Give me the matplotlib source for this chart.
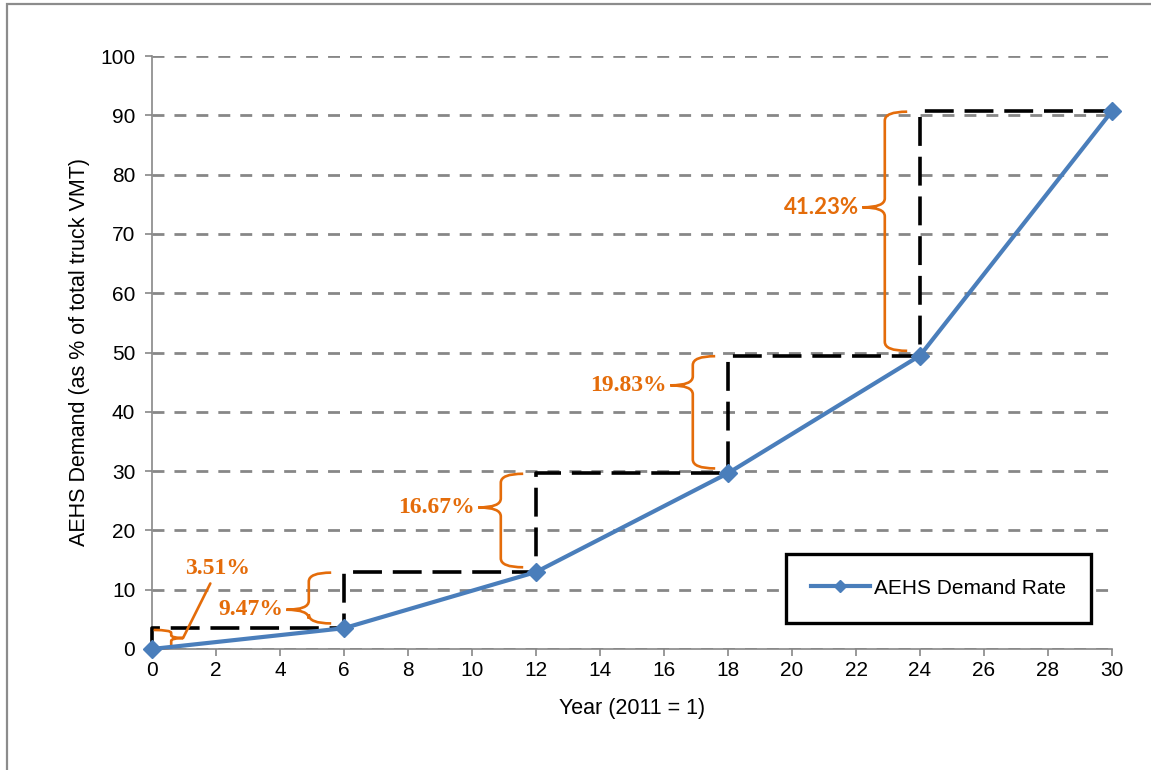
import numpy as np
import matplotlib.pyplot as plt
from matplotlib.path import Path
from matplotlib.patches import PathPatch, Rectangle

# data
years = [0, 6, 12, 18, 24, 30]
demand = [0, 3.51, 12.98, 29.65, 49.48, 90.71]
step_labels = ['3.51%', '9.47%', '16.67%', '19.83%', '41.23%']
y_ticks = list(range(0, 101, 10))
x_ticks = list(range(0, 31, 2))

orange = '#E46C0A'
blue = '#4A7EBB'
gray = '#878787'


def brace(ax, x_end, x_vert, x_tip, y0, y1, ym, ry):
    # curly brace: arms at y0/y1 ending at x_end, spine at x_vert, point at (x_tip, ym)
    verts = [(x_end, y1), (x_vert, y1), (x_vert, y1 - ry), (x_vert, ym + ry),
             (x_vert, ym), (x_tip, ym),
             (x_tip, ym), (x_vert, ym), (x_vert, ym - ry), (x_vert, y0 + ry),
             (x_vert, y0), (x_end, y0)]
    codes = [Path.MOVETO, Path.CURVE3, Path.CURVE3, Path.LINETO, Path.CURVE3, Path.CURVE3,
             Path.MOVETO, Path.CURVE3, Path.CURVE3, Path.LINETO, Path.CURVE3, Path.CURVE3]
    ax.add_patch(PathPatch(Path(verts, codes), fill=False, edgecolor=orange, lw=1.9,
                           zorder=4, clip_on=False))


fig = plt.figure(figsize=(11.51, 7.70), dpi=100)
ax = fig.add_axes([152 / 1151, 1 - 649 / 770, 960 / 1151, 593 / 770])

# outer frame of the chart area
fig.patches.append(Rectangle((7 / 1151, -0.05), 1.1, 1 - 4 / 770 + 0.05,
                             transform=fig.transFigure, fill=False,
                             edgecolor='#8c8c8c', lw=1.6))

ax.set_xlim(0, 30)
ax.set_ylim(0, 100)
ax.set_xticks(x_ticks)
ax.set_yticks(y_ticks)
ax.yaxis.grid(True, color=gray, lw=2.0, linestyle=(0, (4.3, 3.6)))
ax.set_axisbelow(True)
for s in ['top', 'right']:
    ax.spines[s].set_visible(False)
for s in ['left', 'bottom']:
    ax.spines[s].set_color(gray)
    ax.spines[s].set_linewidth(1.2)
ax.tick_params(colors=gray, labelcolor='black', labelsize=15, length=5, width=1.2)
ax.tick_params(axis='y', pad=7)
for lab in ax.get_xticklabels() + ax.get_yticklabels():
    lab.set_fontfamily('Liberation Sans')

# black dashed steps
sx, sy = [years[0]], [demand[0]]
for i in range(len(years) - 1):
    sx += [years[i], years[i + 1]]
    sy += [demand[i + 1], demand[i + 1]]
ax.plot(sx, sy, color='black', lw=2.6, linestyle=(0, (8, 3)), zorder=3, clip_on=False)

line, = ax.plot(years, demand, color=blue, lw=3, marker='D', markersize=9,
                zorder=5, clip_on=False, label='AEHS Demand Rate')

# small bracket at the start with leader to its label
brace(ax, 0.05, 0.6, 0.97, demand[0], demand[1] - 0.3, 1.85, 0.5)
ax.annotate(step_labels[0], xy=(0.97, 1.85), xytext=(2.05, 13.5),
            ha='center', va='center', color=orange, fontsize=17, fontweight='bold',
            family='Liberation Serif', zorder=6,
            arrowprops=dict(arrowstyle='-', color=orange, lw=1.9, shrinkA=1, shrinkB=0))

# braces for the other steps, left of each vertical step
tip_frac = [None, 0.27, 0.64, 0.74, 0.6]
for i in range(1, len(step_labels)):
    xv = years[i] - 1.1
    y0 = demand[i] + 0.8
    y1 = demand[i + 1] - 0.1
    ym = y0 + tip_frac[i] * (y1 - y0)
    brace(ax, years[i] - 0.4, xv, xv - 0.7, y0, y1, ym, 1.5)
    if i == 4:
        fam, fs = 'Lato', 16
    else:
        fam, fs = 'Liberation Serif', 17
    ax.text(xv - 0.8, ym, step_labels[i], ha='right', va='center', color=orange,
            fontsize=fs, fontweight='bold', family=fam, zorder=6)

ax.set_xlabel('Year (2011 = 1)', fontsize=15.5, family='Liberation Sans')
ax.set_ylabel('AEHS Demand (as % of total truck VMT)', fontsize=15.5, family='Liberation Sans')
ax.xaxis.set_label_coords(0.5, -0.083)
ax.yaxis.set_label_coords(-0.065, 0.5)

leg = fig.legend(handles=[line], loc='center', bbox_to_anchor=(938.5 / 1151, 1 - 588 / 770),
                 prop={'family': 'Liberation Sans', 'size': 15}, fancybox=False,
                 edgecolor='black', framealpha=1, borderpad=1.2, handlelength=2.8,
                 handletextpad=0.2, markerscale=0.7)
leg.get_frame().set_linewidth(2.4)

fig.savefig('out.png', dpi=100)
